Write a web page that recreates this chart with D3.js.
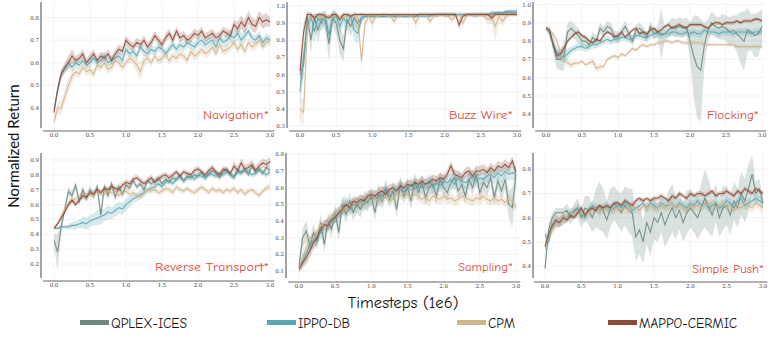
<!DOCTYPE html>
<html>
<head>
<meta charset="utf-8">
<script src="https://cdn.jsdelivr.net/npm/d3@7"></script>
<style>
  html, body { margin: 0; padding: 0; background: #fff; }
  svg { display: block; }
</style>
</head>
<body>
<div id="chart"></div>
<script>
// ==== data: normalized return, sampled every 0.05 (1e6 timesteps) ====
const timesteps = d3.range(61).map(i => +(i * 0.05).toFixed(2))
const xTicks = [0, 0.5, 1.0, 1.5, 2.0, 2.5, 3.0]
const methods = ['QPLEX-ICES', 'IPPO-DB', 'CPM', 'MAPPO-CERMIC']

// Navigation (no QPLEX-ICES curve in this task)
const navIppo = [0.39,0.48,0.55,0.57,0.60,0.58,0.60,0.59,0.61,0.59, 0.60,0.62,0.60,0.61,0.63,0.60,0.61,0.62,0.63,0.61, 0.66,0.64,0.65,0.63,0.67,0.65,0.64,0.66,0.65,0.67, 0.66,0.64,0.66,0.68,0.66,0.68,0.67,0.69,0.68,0.67, 0.69,0.70,0.68,0.69,0.70,0.67,0.71,0.69,0.70,0.72, 0.71,0.73,0.70,0.72,0.74,0.71,0.70,0.72,0.69,0.71, 0.70]
const navCpm = [0.34,0.40,0.40,0.45,0.50,0.54,0.56,0.55,0.58,0.56, 0.57,0.55,0.59,0.58,0.60,0.57,0.58,0.61,0.60,0.58, 0.60,0.62,0.61,0.59,0.56,0.61,0.62,0.60,0.63,0.61, 0.62,0.64,0.61,0.63,0.62,0.64,0.63,0.61,0.65,0.63, 0.64,0.66,0.64,0.65,0.67,0.64,0.68,0.65,0.66,0.67, 0.69,0.66,0.68,0.65,0.69,0.67,0.68,0.70,0.67,0.69, 0.70]
const navMappo = [0.38,0.48,0.55,0.58,0.60,0.63,0.61,0.62,0.64,0.60, 0.62,0.64,0.61,0.63,0.62,0.64,0.61,0.64,0.66,0.65, 0.70,0.68,0.67,0.69,0.68,0.70,0.67,0.69,0.72,0.70, 0.68,0.71,0.73,0.70,0.74,0.71,0.72,0.70,0.71,0.73, 0.72,0.74,0.71,0.72,0.73,0.71,0.72,0.74,0.73,0.72, 0.77,0.75,0.78,0.76,0.80,0.77,0.76,0.80,0.78,0.79, 0.78]
const navIppoBand = [0.01,0.02,0.02,0.02,0.02,0.02,0.02,0.02,0.02,0.02, 0.02,0.02,0.02,0.02,0.02,0.02,0.02,0.02,0.02,0.02, 0.02,0.02,0.02,0.02,0.02,0.02,0.02,0.02,0.02,0.02, 0.02,0.02,0.02,0.02,0.02,0.02,0.02,0.02,0.02,0.02, 0.02,0.02,0.02,0.02,0.02,0.02,0.02,0.02,0.03,0.03, 0.03,0.03,0.03,0.03,0.02,0.02,0.02,0.02,0.02,0.02, 0.02]
const navCpmBand = [0.02,0.03,0.03,0.03,0.03,0.03,0.02,0.02,0.02,0.02, 0.02,0.02,0.02,0.02,0.02,0.02,0.02,0.02,0.02,0.02, 0.02,0.02,0.02,0.03,0.04,0.03,0.02,0.02,0.02,0.02, 0.02,0.02,0.02,0.02,0.02,0.02,0.02,0.02,0.02,0.02, 0.02,0.02,0.02,0.02,0.02,0.02,0.02,0.02,0.02,0.02, 0.02,0.02,0.02,0.02,0.02,0.02,0.02,0.02,0.02,0.02, 0.02]
const navMappoBand = [0.01,0.02,0.02,0.02,0.03,0.03,0.02,0.02,0.02,0.02, 0.02,0.02,0.02,0.02,0.02,0.02,0.02,0.02,0.02,0.02, 0.02,0.02,0.02,0.02,0.02,0.02,0.02,0.02,0.02,0.02, 0.02,0.02,0.02,0.02,0.02,0.02,0.02,0.02,0.02,0.02, 0.02,0.02,0.02,0.02,0.02,0.02,0.02,0.02,0.02,0.02, 0.02,0.03,0.03,0.03,0.03,0.03,0.03,0.03,0.03,0.03, 0.02]

// Buzz Wire
const bwQplex = [0.60,0.66,0.94,0.80,0.93,0.86,0.93,0.91,0.78,0.93, 0.90,0.80,0.75,0.92,0.88,0.93,0.90,0.93,0.94,0.94, 0.94,0.94,0.94,0.94,0.94,0.94,0.94,0.94,0.94,0.94, 0.94,0.94,0.94,0.95,0.95,0.95,0.95,0.95,0.95,0.95, 0.95,0.95,0.95,0.95,0.95,0.95,0.95,0.95,0.95,0.95, 0.95,0.95,0.95,0.95,0.96,0.96,0.96,0.96,0.96,0.96, 0.96]
const bwIppo = [0.50,0.70,0.88,0.94,0.85,0.93,0.90,0.94,0.83,0.93, 0.94,0.88,0.93,0.90,0.94,0.86,0.84,0.93,0.94,0.94, 0.94,0.94,0.94,0.94,0.94,0.94,0.94,0.94,0.94,0.94, 0.94,0.94,0.94,0.94,0.94,0.94,0.94,0.95,0.95,0.95, 0.95,0.95,0.95,0.95,0.95,0.95,0.95,0.95,0.95,0.95, 0.95,0.95,0.95,0.96,0.96,0.96,0.96,0.97,0.97,0.97, 0.97]
const bwCpm = [0.40,0.38,0.85,0.93,0.94,0.94,0.93,0.94,0.94,0.94, 0.94,0.94,0.93,0.94,0.94,0.94,0.93,0.68,0.90,0.94, 0.90,0.94,0.94,0.95,0.94,0.94,0.91,0.94,0.94,0.95, 0.94,0.94,0.90,0.94,0.95,0.94,0.91,0.94,0.94,0.95, 0.94,0.94,0.92,0.94,0.95,0.90,0.94,0.95,0.94,0.94, 0.95,0.94,0.92,0.94,0.88,0.94,0.91,0.94,0.95,0.95, 0.95]
const bwMappo = [0.62,0.85,0.95,0.95,0.93,0.95,0.95,0.94,0.93,0.95, 0.95,0.92,0.95,0.95,0.94,0.95,0.95,0.95,0.95,0.95, 0.95,0.95,0.95,0.95,0.95,0.95,0.95,0.95,0.95,0.95, 0.95,0.95,0.95,0.95,0.95,0.95,0.95,0.95,0.95,0.95, 0.95,0.95,0.95,0.95,0.89,0.94,0.95,0.95,0.95,0.95, 0.95,0.95,0.95,0.93,0.95,0.95,0.95,0.95,0.95,0.95, 0.95]
const bwQplexBand = [0.06,0.08,0.02,0.08,0.04,0.08,0.04,0.06,0.10,0.05, 0.06,0.08,0.08,0.05,0.06,0.04,0.05,0.03,0.01,0.01, 0.01,0.01,0.01,0.01,0.01,0.01,0.01,0.01,0.01,0.01, 0.01,0.01,0.01,0.01,0.01,0.01,0.01,0.01,0.01,0.01, 0.01,0.01,0.01,0.01,0.01,0.01,0.01,0.01,0.01,0.01, 0.01,0.01,0.01,0.01,0.01,0.01,0.01,0.01,0.01,0.01, 0.01]
const bwIppoBand = [0.08,0.08,0.05,0.03,0.07,0.04,0.05,0.03,0.07,0.04, 0.03,0.05,0.04,0.05,0.03,0.06,0.06,0.03,0.01,0.01, 0.01,0.01,0.01,0.01,0.01,0.01,0.01,0.01,0.01,0.01, 0.01,0.01,0.01,0.01,0.01,0.01,0.01,0.01,0.01,0.01, 0.01,0.01,0.01,0.01,0.01,0.01,0.01,0.01,0.01,0.01, 0.01,0.01,0.01,0.01,0.01,0.01,0.01,0.01,0.01,0.01, 0.01]
const bwCpmBand = [0.06,0.08,0.06,0.02,0.01,0.01,0.02,0.01,0.01,0.01, 0.01,0.01,0.02,0.01,0.01,0.01,0.02,0.05,0.03,0.01, 0.03,0.01,0.01,0.01,0.01,0.01,0.02,0.01,0.01,0.01, 0.01,0.01,0.03,0.01,0.01,0.01,0.02,0.01,0.01,0.01, 0.01,0.01,0.02,0.01,0.01,0.03,0.01,0.01,0.01,0.01, 0.01,0.02,0.03,0.04,0.08,0.04,0.03,0.02,0.01,0.01, 0.01]
const bwMappoBand = [0.05,0.05,0.02,0.01,0.02,0.01,0.01,0.01,0.02,0.01, 0.01,0.02,0.01,0.01,0.01,0.01,0.01,0.01,0.01,0.01, 0.01,0.01,0.01,0.01,0.01,0.01,0.01,0.01,0.01,0.01, 0.01,0.01,0.01,0.01,0.01,0.01,0.01,0.01,0.01,0.01, 0.01,0.01,0.01,0.01,0.03,0.01,0.01,0.01,0.01,0.01, 0.01,0.01,0.01,0.02,0.01,0.01,0.01,0.01,0.01,0.01, 0.01]

// Flocking
const flQplex = [0.87,0.86,0.78,0.70,0.70,0.72,0.85,0.87,0.85,0.83, 0.80,0.80,0.78,0.82,0.80,0.87,0.85,0.88,0.87,0.83, 0.82,0.85,0.88,0.84,0.80,0.86,0.87,0.85,0.82,0.88, 0.84,0.85,0.84,0.84,0.86,0.88,0.87,0.88,0.87,0.88, 0.80,0.72,0.66,0.64,0.78,0.86,0.90,0.88,0.87,0.88, 0.87,0.85,0.86,0.84,0.82,0.80,0.86,0.85,0.83,0.84, 0.88]
const flIppo = [0.87,0.84,0.78,0.74,0.72,0.71,0.73,0.75,0.76,0.77, 0.77,0.76,0.77,0.78,0.78,0.79,0.80,0.81,0.80,0.81, 0.81,0.82,0.82,0.81,0.81,0.83,0.83,0.82,0.82,0.83, 0.84,0.84,0.83,0.84,0.84,0.85,0.85,0.84,0.84,0.85, 0.84,0.85,0.84,0.84,0.86,0.85,0.85,0.85,0.84,0.85, 0.85,0.85,0.84,0.85,0.85,0.85,0.85,0.84,0.85,0.85, 0.85]
const flCpm = [0.87,0.86,0.84,0.80,0.74,0.70,0.68,0.67,0.68,0.68, 0.69,0.67,0.68,0.69,0.65,0.66,0.66,0.70,0.71,0.72, 0.71,0.73,0.72,0.74,0.76,0.75,0.77,0.78,0.77,0.78, 0.78,0.79,0.79,0.80,0.80,0.79,0.80,0.80,0.79,0.79, 0.79,0.79,0.79,0.79,0.78,0.78,0.78,0.78,0.78,0.78, 0.78,0.78,0.78,0.77,0.77,0.77,0.77,0.77,0.77,0.77, 0.77]
const flMappo = [0.87,0.86,0.78,0.72,0.73,0.76,0.80,0.82,0.84,0.85, 0.83,0.82,0.80,0.79,0.81,0.80,0.83,0.85,0.84,0.82, 0.83,0.85,0.82,0.84,0.86,0.87,0.84,0.85,0.84,0.86, 0.87,0.85,0.86,0.88,0.89,0.87,0.88,0.89,0.88,0.87, 0.89,0.89,0.89,0.89,0.88,0.87,0.89,0.90,0.90,0.89, 0.90,0.90,0.90,0.91,0.90,0.91,0.91,0.91,0.92,0.92, 0.91]
const flQplexBand = [0.01,0.02,0.05,0.05,0.06,0.08,0.05,0.04,0.04,0.04, 0.03,0.03,0.03,0.03,0.03,0.03,0.03,0.03,0.03,0.03, 0.03,0.03,0.03,0.03,0.03,0.03,0.03,0.03,0.03,0.03, 0.03,0.03,0.14,0.04,0.04,0.05,0.05,0.05,0.05,0.05, 0.10,0.22,0.28,0.28,0.12,0.06,0.06,0.06,0.06,0.07, 0.07,0.08,0.08,0.10,0.14,0.16,0.12,0.10,0.12,0.12, 0.09]
const flIppoBand = [0.01,0.02,0.02,0.03,0.03,0.03,0.03,0.02,0.02,0.02, 0.02,0.02,0.02,0.02,0.02,0.02,0.02,0.02,0.02,0.02, 0.02,0.02,0.02,0.02,0.02,0.02,0.02,0.02,0.02,0.02, 0.02,0.02,0.02,0.02,0.02,0.02,0.02,0.02,0.02,0.02, 0.02,0.02,0.02,0.02,0.02,0.02,0.02,0.02,0.02,0.02, 0.02,0.02,0.02,0.02,0.02,0.02,0.02,0.02,0.02,0.02, 0.02]
const flCpmBand = [0.01,0.01,0.01,0.02,0.02,0.02,0.02,0.02,0.01,0.01, 0.01,0.01,0.01,0.02,0.02,0.02,0.01,0.01,0.01,0.01, 0.01,0.01,0.01,0.01,0.01,0.01,0.01,0.01,0.01,0.01, 0.01,0.01,0.01,0.01,0.01,0.01,0.01,0.01,0.01,0.01, 0.01,0.01,0.01,0.01,0.01,0.01,0.01,0.01,0.01,0.01, 0.01,0.01,0.01,0.01,0.01,0.01,0.01,0.01,0.01,0.01, 0.01]
const flMappoBand = [0.01,0.01,0.02,0.02,0.02,0.02,0.01,0.01,0.01,0.01, 0.01,0.01,0.01,0.01,0.01,0.01,0.01,0.01,0.01,0.01, 0.01,0.01,0.01,0.01,0.01,0.01,0.01,0.01,0.01,0.01, 0.01,0.01,0.01,0.01,0.01,0.01,0.01,0.01,0.01,0.01, 0.01,0.01,0.01,0.01,0.01,0.01,0.01,0.01,0.01,0.01, 0.01,0.01,0.01,0.01,0.01,0.01,0.01,0.01,0.01,0.01, 0.01]

// Reverse Transport
const rtQplex = [0.36,0.28,0.45,0.57,0.69,0.66,0.73,0.62,0.70,0.64, 0.70,0.66,0.72,0.53,0.72,0.66,0.74,0.65,0.72,0.67, 0.73,0.71,0.76,0.72,0.74,0.70,0.76,0.74,0.76,0.78, 0.74,0.77,0.75,0.78,0.77,0.80,0.76,0.79,0.78,0.80, 0.79,0.82,0.78,0.80,0.83,0.81,0.78,0.82,0.84,0.80, 0.79,0.83,0.82,0.84,0.80,0.86,0.82,0.84,0.81,0.85, 0.83]
const rtIppo = [0.44,0.44,0.45,0.45,0.45,0.46,0.46,0.47,0.48,0.47, 0.49,0.50,0.51,0.52,0.53,0.55,0.54,0.56,0.58,0.57, 0.60,0.62,0.64,0.65,0.67,0.68,0.70,0.71,0.72,0.74, 0.72,0.75,0.76,0.74,0.77,0.78,0.76,0.78,0.79,0.77, 0.80,0.79,0.78,0.81,0.80,0.79,0.81,0.80,0.82,0.80, 0.78,0.82,0.81,0.83,0.82,0.80,0.81,0.83,0.82,0.80, 0.82]
const rtCpm = [0.44,0.47,0.52,0.57,0.60,0.62,0.64,0.66,0.65,0.67, 0.68,0.66,0.69,0.68,0.67,0.70,0.68,0.69,0.66,0.68, 0.69,0.67,0.68,0.66,0.65,0.68,0.70,0.69,0.70,0.68, 0.69,0.71,0.70,0.68,0.72,0.70,0.69,0.71,0.69,0.68, 0.70,0.72,0.70,0.68,0.71,0.69,0.70,0.68,0.70,0.69, 0.71,0.68,0.70,0.67,0.69,0.70,0.68,0.66,0.69,0.71, 0.72]
const rtMappo = [0.44,0.47,0.51,0.55,0.60,0.63,0.60,0.63,0.66,0.65, 0.68,0.67,0.70,0.68,0.71,0.70,0.72,0.71,0.70,0.73, 0.75,0.74,0.77,0.78,0.76,0.74,0.76,0.78,0.75,0.77, 0.79,0.80,0.78,0.80,0.82,0.79,0.82,0.81,0.80,0.83, 0.84,0.82,0.80,0.83,0.85,0.82,0.80,0.84,0.83,0.81, 0.86,0.83,0.88,0.84,0.85,0.87,0.83,0.86,0.88,0.87, 0.89]
const rtQplexBand = [0.04,0.12,0.05,0.03,0.03,0.03,0.03,0.03,0.03,0.03, 0.03,0.03,0.03,0.04,0.03,0.03,0.03,0.03,0.03,0.03, 0.02,0.02,0.02,0.02,0.02,0.02,0.02,0.02,0.02,0.02, 0.02,0.02,0.02,0.02,0.02,0.02,0.02,0.02,0.02,0.02, 0.02,0.02,0.02,0.02,0.02,0.02,0.02,0.02,0.02,0.02, 0.02,0.02,0.02,0.02,0.02,0.02,0.02,0.02,0.02,0.02, 0.02]
const rtIppoBand = [0.01,0.01,0.01,0.01,0.02,0.02,0.03,0.03,0.04,0.04, 0.04,0.04,0.05,0.05,0.04,0.05,0.04,0.04,0.04,0.04, 0.04,0.04,0.03,0.03,0.03,0.03,0.02,0.02,0.02,0.02, 0.02,0.02,0.02,0.02,0.02,0.02,0.02,0.02,0.02,0.02, 0.02,0.02,0.02,0.02,0.02,0.02,0.02,0.02,0.02,0.02, 0.02,0.02,0.02,0.02,0.02,0.02,0.02,0.02,0.02,0.02, 0.02]
const rtCpmBand = [0.01,0.02,0.02,0.02,0.02,0.02,0.02,0.02,0.02,0.02, 0.02,0.02,0.02,0.02,0.02,0.02,0.02,0.02,0.02,0.02, 0.02,0.02,0.02,0.02,0.02,0.02,0.02,0.02,0.02,0.02, 0.02,0.02,0.02,0.02,0.02,0.02,0.02,0.02,0.02,0.02, 0.02,0.02,0.02,0.02,0.02,0.02,0.02,0.02,0.02,0.02, 0.02,0.02,0.02,0.02,0.02,0.02,0.02,0.02,0.02,0.02, 0.02]
const rtMappoBand = [0.01,0.01,0.01,0.01,0.02,0.02,0.02,0.02,0.02,0.02, 0.02,0.02,0.02,0.02,0.02,0.02,0.02,0.02,0.02,0.02, 0.02,0.02,0.02,0.02,0.02,0.02,0.02,0.02,0.02,0.02, 0.02,0.02,0.02,0.02,0.02,0.02,0.02,0.02,0.02,0.02, 0.02,0.02,0.02,0.02,0.02,0.02,0.02,0.02,0.02,0.02, 0.03,0.03,0.03,0.03,0.03,0.03,0.03,0.03,0.03,0.03, 0.03]

// Sampling
const saQplex = [0.13,0.30,0.34,0.25,0.33,0.28,0.39,0.26,0.40,0.35, 0.45,0.33,0.50,0.44,0.52,0.45,0.50,0.47,0.53,0.51, 0.55,0.45,0.57,0.52,0.60,0.53,0.58,0.47,0.62,0.55, 0.60,0.52,0.64,0.57,0.63,0.54,0.60,0.62,0.55,0.65, 0.60,0.57,0.63,0.66,0.58,0.62,0.55,0.65,0.60,0.68, 0.57,0.63,0.60,0.66,0.54,0.64,0.58,0.65,0.50,0.48, 0.68]
const saIppo = [0.12,0.16,0.20,0.26,0.28,0.30,0.33,0.36,0.38,0.40, 0.43,0.44,0.48,0.50,0.47,0.50,0.49,0.52,0.50,0.52, 0.53,0.55,0.52,0.56,0.58,0.55,0.57,0.59,0.61,0.57, 0.60,0.62,0.59,0.61,0.60,0.62,0.64,0.60,0.63,0.61, 0.64,0.63,0.65,0.62,0.66,0.64,0.63,0.65,0.67,0.64, 0.66,0.65,0.67,0.68,0.66,0.69,0.67,0.70,0.68,0.69, 0.68]
const saCpm = [0.12,0.18,0.24,0.28,0.30,0.33,0.38,0.35,0.40,0.42, 0.44,0.45,0.48,0.46,0.50,0.48,0.52,0.50,0.51,0.53, 0.52,0.54,0.52,0.53,0.55,0.54,0.53,0.56,0.55,0.57, 0.56,0.54,0.56,0.55,0.53,0.54,0.52,0.55,0.54,0.53, 0.55,0.53,0.54,0.52,0.53,0.55,0.54,0.53,0.52,0.54, 0.53,0.55,0.53,0.52,0.54,0.52,0.53,0.51,0.53,0.52, 0.48]
const saMappo = [0.11,0.15,0.18,0.22,0.27,0.30,0.35,0.38,0.37,0.41, 0.42,0.45,0.47,0.50,0.48,0.52,0.51,0.53,0.52,0.55, 0.56,0.55,0.57,0.58,0.56,0.59,0.60,0.58,0.61,0.60, 0.62,0.61,0.63,0.62,0.64,0.62,0.63,0.65,0.64,0.66, 0.65,0.68,0.73,0.68,0.67,0.66,0.69,0.70,0.67,0.70, 0.70,0.71,0.69,0.72,0.70,0.73,0.72,0.74,0.72,0.76, 0.69]
const saQplexBand = [0.02,0.06,0.06,0.05,0.05,0.05,0.05,0.05,0.05,0.05, 0.05,0.05,0.05,0.05,0.05,0.05,0.05,0.05,0.05,0.05, 0.05,0.05,0.05,0.05,0.05,0.05,0.05,0.05,0.05,0.05, 0.05,0.05,0.05,0.05,0.05,0.05,0.05,0.05,0.05,0.05, 0.05,0.05,0.05,0.05,0.05,0.05,0.05,0.05,0.05,0.05, 0.05,0.05,0.05,0.05,0.05,0.05,0.05,0.06,0.08,0.12, 0.06]
const saIppoBand = [0.02,0.04,0.04,0.04,0.04,0.04,0.04,0.04,0.04,0.04, 0.04,0.05,0.05,0.05,0.04,0.04,0.04,0.04,0.04,0.04, 0.04,0.04,0.04,0.04,0.04,0.04,0.04,0.04,0.04,0.04, 0.04,0.04,0.04,0.04,0.04,0.04,0.04,0.04,0.04,0.04, 0.04,0.04,0.04,0.04,0.04,0.04,0.04,0.04,0.04,0.04, 0.04,0.04,0.04,0.04,0.04,0.04,0.04,0.04,0.04,0.04, 0.04]
const saCpmBand = [0.02,0.04,0.04,0.04,0.03,0.03,0.03,0.03,0.03,0.03, 0.03,0.03,0.03,0.03,0.03,0.03,0.03,0.03,0.03,0.03, 0.03,0.03,0.03,0.03,0.03,0.03,0.03,0.03,0.03,0.03, 0.03,0.03,0.03,0.03,0.03,0.03,0.03,0.03,0.03,0.03, 0.03,0.03,0.03,0.03,0.03,0.03,0.03,0.03,0.03,0.03, 0.03,0.03,0.03,0.03,0.03,0.03,0.03,0.03,0.03,0.03, 0.03]
const saMappoBand = [0.02,0.03,0.04,0.04,0.04,0.04,0.03,0.03,0.03,0.03, 0.03,0.03,0.03,0.03,0.03,0.03,0.03,0.03,0.03,0.03, 0.03,0.03,0.03,0.03,0.03,0.03,0.03,0.03,0.03,0.03, 0.03,0.03,0.03,0.03,0.03,0.03,0.03,0.03,0.03,0.03, 0.03,0.03,0.03,0.03,0.03,0.03,0.03,0.03,0.03,0.03, 0.03,0.03,0.03,0.03,0.03,0.03,0.03,0.03,0.03,0.03, 0.03]

// Simple Push
const spQplex = [0.39,0.55,0.60,0.62,0.62,0.62,0.63,0.60,0.63,0.64, 0.60,0.64,0.63,0.60,0.64,0.65,0.63,0.59,0.64,0.66, 0.64,0.62,0.65,0.63,0.62,0.52,0.55,0.50,0.58,0.54, 0.60,0.58,0.62,0.57,0.61,0.64,0.60,0.63,0.58,0.62, 0.64,0.62,0.60,0.64,0.68,0.65,0.61,0.66,0.60,0.64, 0.65,0.61,0.67,0.64,0.70,0.67,0.72,0.78,0.70,0.72, 0.66]
const spIppo = [0.53,0.50,0.56,0.58,0.58,0.59,0.60,0.62,0.62,0.64, 0.62,0.60,0.63,0.65,0.64,0.63,0.64,0.65,0.63,0.64, 0.65,0.64,0.66,0.65,0.63,0.64,0.65,0.66,0.64,0.66, 0.65,0.64,0.66,0.65,0.65,0.66,0.64,0.66,0.65,0.64, 0.66,0.65,0.67,0.65,0.66,0.64,0.65,0.66,0.64,0.65, 0.67,0.66,0.64,0.67,0.68,0.65,0.66,0.67,0.68,0.67, 0.66]
const spCpm = [0.48,0.52,0.55,0.57,0.58,0.59,0.60,0.61,0.62,0.63, 0.62,0.61,0.62,0.63,0.64,0.62,0.64,0.63,0.64,0.63, 0.64,0.63,0.64,0.63,0.65,0.64,0.63,0.65,0.64,0.65, 0.64,0.64,0.65,0.64,0.65,0.66,0.64,0.65,0.64,0.63, 0.65,0.64,0.65,0.64,0.66,0.65,0.66,0.64,0.65,0.66, 0.64,0.65,0.63,0.65,0.64,0.66,0.65,0.64,0.66,0.65, 0.64]
const spMappo = [0.48,0.53,0.57,0.59,0.58,0.60,0.59,0.61,0.60,0.62, 0.64,0.61,0.63,0.64,0.63,0.65,0.64,0.65,0.64,0.66, 0.66,0.65,0.67,0.66,0.65,0.67,0.68,0.67,0.68,0.67, 0.68,0.68,0.69,0.68,0.67,0.69,0.68,0.70,0.69,0.68, 0.70,0.69,0.70,0.70,0.69,0.70,0.71,0.69,0.70,0.70, 0.71,0.70,0.69,0.71,0.70,0.72,0.71,0.70,0.72,0.71, 0.70]
const spQplexBand = [0.02,0.03,0.02,0.02,0.02,0.02,0.03,0.03,0.03,0.04, 0.04,0.05,0.06,0.06,0.08,0.10,0.09,0.08,0.08,0.07, 0.07,0.08,0.08,0.09,0.10,0.10,0.10,0.09,0.09,0.10, 0.09,0.08,0.08,0.09,0.10,0.10,0.09,0.08,0.08,0.09, 0.08,0.08,0.09,0.10,0.12,0.11,0.09,0.08,0.08,0.09, 0.08,0.08,0.08,0.08,0.09,0.09,0.10,0.08,0.05,0.04, 0.03]
const spIppoBand = [0.02,0.02,0.02,0.02,0.02,0.02,0.02,0.02,0.02,0.02, 0.02,0.02,0.02,0.02,0.02,0.02,0.02,0.02,0.02,0.02, 0.02,0.02,0.02,0.02,0.02,0.02,0.02,0.02,0.02,0.02, 0.02,0.02,0.02,0.02,0.02,0.02,0.02,0.02,0.02,0.02, 0.02,0.02,0.02,0.02,0.02,0.02,0.02,0.02,0.02,0.02, 0.02,0.02,0.02,0.02,0.02,0.02,0.02,0.02,0.02,0.02, 0.02]
const spCpmBand = [0.02,0.02,0.02,0.02,0.02,0.02,0.02,0.02,0.02,0.02, 0.02,0.02,0.02,0.02,0.02,0.02,0.02,0.02,0.02,0.02, 0.02,0.02,0.02,0.02,0.02,0.02,0.02,0.02,0.02,0.02, 0.02,0.02,0.02,0.02,0.02,0.02,0.02,0.02,0.02,0.02, 0.02,0.02,0.02,0.02,0.02,0.02,0.02,0.02,0.02,0.02, 0.02,0.02,0.02,0.02,0.02,0.02,0.02,0.02,0.02,0.02, 0.02]
const spMappoBand = [0.02,0.02,0.02,0.02,0.02,0.02,0.01,0.01,0.01,0.01, 0.01,0.01,0.01,0.01,0.01,0.01,0.01,0.01,0.01,0.01, 0.01,0.01,0.01,0.01,0.01,0.01,0.01,0.01,0.01,0.01, 0.01,0.01,0.01,0.01,0.01,0.01,0.01,0.01,0.01,0.01, 0.01,0.01,0.01,0.01,0.01,0.01,0.01,0.01,0.01,0.01, 0.01,0.01,0.01,0.01,0.01,0.01,0.01,0.01,0.01,0.01, 0.01]

const navTicks = [0.4, 0.5, 0.6, 0.7, 0.8]
const bwTicks = [0.3, 0.4, 0.5, 0.6, 0.7, 0.8, 0.9, 1.0]
const flTicks = [0.4, 0.5, 0.6, 0.7, 0.8, 0.9, 1.0]
const rtTicks = [0.2, 0.3, 0.4, 0.5, 0.6, 0.7, 0.8, 0.9]
const saTicks = [0.1, 0.2, 0.3, 0.4, 0.5, 0.6, 0.7, 0.8]
const spTicks = [0.4, 0.5, 0.6, 0.7, 0.8]

// ==== style ====
const colors = ['#6d8a80', '#5aa6b2', '#d2b48a', '#8e4a38']
const titleColor = '#dd4b39'
const handFont = '"Comic Sans MS", "Comic Neue", "DejaVu Sans", sans-serif'

const panels = [
  { title: 'Navigation*', means: [null, navIppo, navCpm, navMappo], bands: [null, navIppoBand, navCpmBand, navMappoBand], yTicks: navTicks },
  { title: 'Buzz Wire*', means: [bwQplex, bwIppo, bwCpm, bwMappo], bands: [bwQplexBand, bwIppoBand, bwCpmBand, bwMappoBand], yTicks: bwTicks },
  { title: 'Flocking*', means: [flQplex, flIppo, flCpm, flMappo], bands: [flQplexBand, flIppoBand, flCpmBand, flMappoBand], yTicks: flTicks },
  { title: 'Reverse Transport*', means: [rtQplex, rtIppo, rtCpm, rtMappo], bands: [rtQplexBand, rtIppoBand, rtCpmBand, rtMappoBand], yTicks: rtTicks },
  { title: 'Sampling*', means: [saQplex, saIppo, saCpm, saMappo], bands: [saQplexBand, saIppoBand, saCpmBand, saMappoBand], yTicks: saTicks },
  { title: 'Simple Push*', means: [spQplex, spIppo, spCpm, spMappo], bands: [spQplexBand, spIppoBand, spCpmBand, spMappoBand], yTicks: spTicks },
]

// pixel layout per panel: y axis x, x of t=0 / t=3, plot top/bottom, two y anchors
const boxes = [
  { ax: 41, x0: 54, x3: 270, top: 2, bottom: 128, axisY: 131, v1: 0.8, y1: 17.5, v2: 0.4, y2: 108, titleX: 269, titleY: 119, titleW: 66 },
  { ax: 287, x0: 300, x3: 517, top: 2, bottom: 128, axisY: 131, v1: 1.0, y1: 6, v2: 0.3, y2: 126, titleX: 513, titleY: 119, titleW: 64 },
  { ax: 533, x0: 546, x3: 762, top: 2, bottom: 128, axisY: 131, v1: 1.0, y1: 4.5, v2: 0.4, y2: 114.3, titleX: 759, titleY: 119, titleW: 52 },
  { ax: 41, x0: 54, x3: 270, top: 153, bottom: 278, axisY: 281, v1: 0.9, y1: 160, v2: 0.2, y2: 264, titleX: 269, titleY: 271, titleW: 114 },
  { ax: 286, x0: 299, x3: 516, top: 153, bottom: 278, axisY: 282, v1: 0.8, y1: 154.3, v2: 0.1, y2: 271, titleX: 513, titleY: 271, titleW: 55 },
  { ax: 533, x0: 545, x3: 763, top: 153, bottom: 278, axisY: 282, v1: 0.8, y1: 169.3, v2: 0.4, y2: 266, titleX: 764, titleY: 273, titleW: 72 },
]

const svg = d3.select('#chart').append('svg').attr('width', 777).attr('height', 338)

panels.forEach((p, pi) => {
  const b = boxes[pi]
  const x = d3.scaleLinear().domain([0, 3]).range([b.x0, b.x3])
  const y = d3.scaleLinear().domain([b.v2, b.v1]).range([b.y2, b.y1])
  const g = svg.append('g')
  const xl = x(-0.15), xr = x(3.06)

  // faint grid
  g.selectAll('.gx').data(xTicks).enter().append('line')
    .attr('x1', d => x(d)).attr('x2', d => x(d))
    .attr('y1', b.top).attr('y2', b.bottom)
    .attr('stroke', '#f0f0f0').attr('stroke-width', 0.8)
  g.selectAll('.gy').data(p.yTicks).enter().append('line')
    .attr('x1', xl).attr('x2', xr)
    .attr('y1', d => y(d)).attr('y2', d => y(d))
    .attr('stroke', '#f0f0f0').attr('stroke-width', 0.8)

  // bands then lines
  p.means.forEach((m, si) => {
    if (!m) return
    const band = p.bands[si]
    const area = d3.area()
      .x((d, i) => x(timesteps[i]))
      .y0((d, i) => y(d - band[i]))
      .y1((d, i) => y(d + band[i]))
    g.append('path').datum(m)
      .attr('d', area)
      .attr('fill', colors[si])
      .attr('fill-opacity', 0.25)
  })
  p.means.forEach((m, si) => {
    if (!m) return
    const line = d3.line().x((d, i) => x(timesteps[i])).y(d => y(d))
    g.append('path').datum(m)
      .attr('d', line)
      .attr('fill', 'none')
      .attr('stroke', colors[si])
      .attr('stroke-width', 1.1)
      .attr('stroke-opacity', 0.9)
  })

  // axes lines (detached, like an offset spine)
  g.append('line').attr('x1', b.ax).attr('x2', b.ax).attr('y1', b.top).attr('y2', b.bottom)
    .attr('stroke', '#666').attr('stroke-width', 1.2)
  g.append('line').attr('x1', xl).attr('x2', xr).attr('y1', b.axisY).attr('y2', b.axisY)
    .attr('stroke', '#666').attr('stroke-width', 1.2)

  // tick labels
  g.selectAll('.yt').data(p.yTicks).enter().append('text')
    .attr('x', b.ax - 2).attr('y', d => y(d) + 2)
    .attr('text-anchor', 'end')
    .attr('font-family', 'DejaVu Serif, serif').attr('font-size', 5.5).attr('fill', '#444')
    .text(d => d.toFixed(1))
  g.selectAll('.xt').data(xTicks).enter().append('text')
    .attr('x', d => x(d)).attr('y', b.axisY + 6)
    .attr('text-anchor', 'middle')
    .attr('font-family', 'DejaVu Serif, serif').attr('font-size', 5.5).attr('fill', '#444')
    .text(d => d.toFixed(1))

  // task title
  g.append('text')
    .attr('x', b.titleX).attr('y', b.titleY)
    .attr('text-anchor', 'end')
    .attr('font-family', handFont).attr('font-size', 12.5)
    .attr('fill', titleColor)
    .attr('textLength', b.titleW).attr('lengthAdjust', 'spacingAndGlyphs')
    .text(p.title)
})

// shared axis titles
svg.append('text')
  .attr('transform', 'translate(19,146) rotate(-90)')
  .attr('text-anchor', 'middle')
  .attr('font-family', 'Lato, "Noto Sans", sans-serif').attr('font-size', 15)
  .attr('fill', '#111')
  .text('Normalized Return')

svg.append('text')
  .attr('x', 403).attr('y', 308)
  .attr('text-anchor', 'middle')
  .attr('font-family', handFont).attr('font-size', 15)
  .attr('fill', '#111')
  .attr('textLength', 111).attr('lengthAdjust', 'spacingAndGlyphs')
  .text('Timesteps (1e6)')

// legend
const legendX = [80, 267, 457, 608]
const legendW = [76, 52, 27, 98]
const lg = svg.append('g')
methods.forEach((name, i) => {
  lg.append('rect')
    .attr('x', legendX[i]).attr('y', 320)
    .attr('width', 29).attr('height', 5)
    .attr('fill', colors[i])
  lg.append('text')
    .attr('x', legendX[i] + 31).attr('y', 327.5)
    .attr('font-family', handFont).attr('font-size', 13)
    .attr('fill', '#111')
    .attr('textLength', legendW[i]).attr('lengthAdjust', 'spacingAndGlyphs')
    .text(name)
})
</script>
</body>
</html>
